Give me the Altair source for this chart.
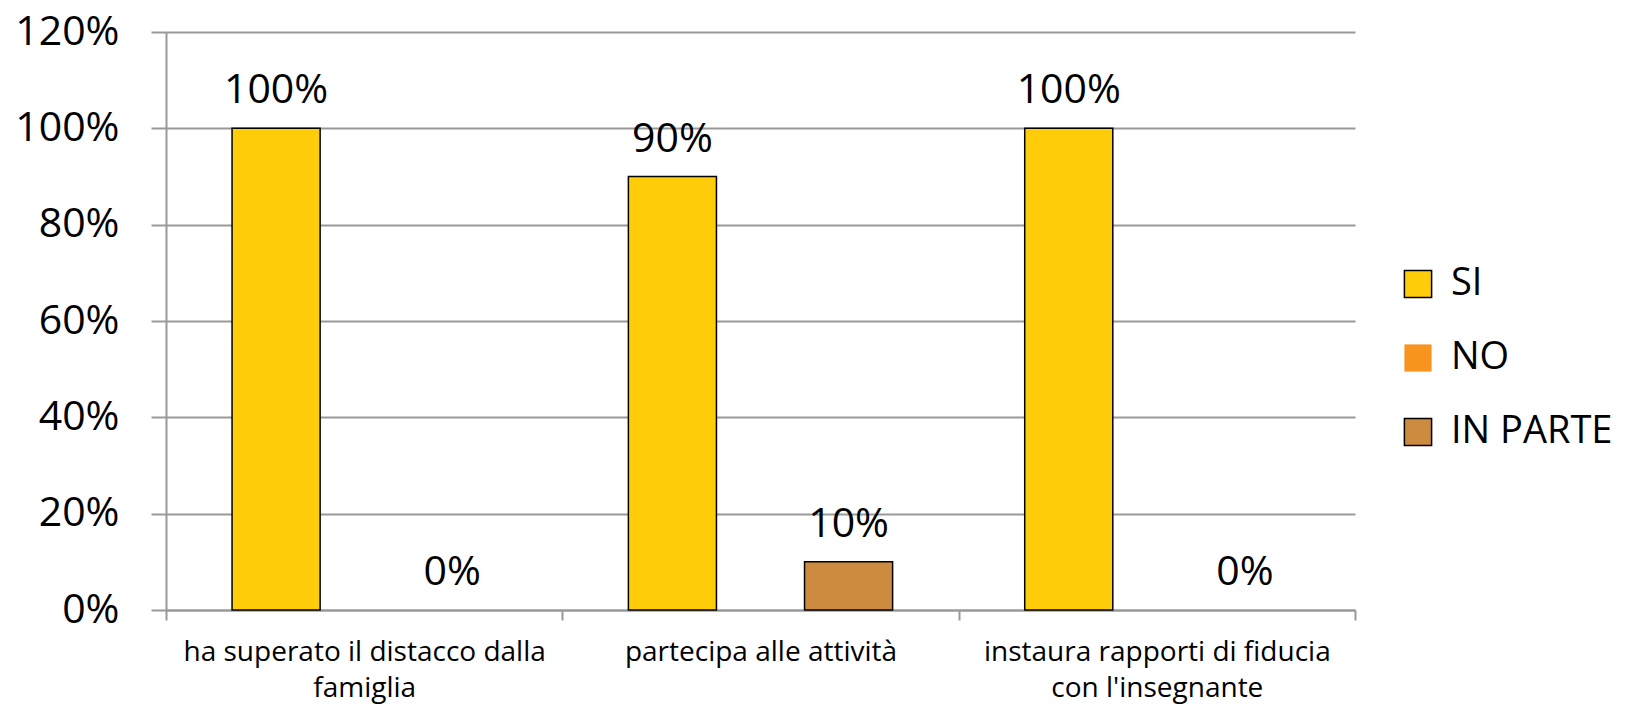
import json
import altair as alt
import pandas as pd

categories = [
    "ha superato il distacco dalla famiglia",
    "partecipa alle attività",
    "instaura rapporti di fiducia con l'insegnante",
]
category_lines = [
    ["ha superato il distacco dalla", "famiglia"],
    ["partecipa alle attività"],
    ["instaura rapporti di fiducia", "con l'insegnante"],
]
series = ["SI", "NO", "IN PARTE"]
si_values = [1.00, 0.90, 1.00]
no_values = [None, None, None]
in_parte_values = [0.00, 0.10, 0.00]
colors = ["#FFCC0A", "#F7941E", "#CD8B3F"]
strokes = ["#000000", "transparent", "#000000"]
y_ticks = [0, 0.2, 0.4, 0.6, 0.8, 1.0, 1.2]

rows = []
for s, vals in zip(series, [si_values, no_values, in_parte_values]):
    for c, v in zip(categories, vals):
        if v is not None:
            rows.append({"categoria": c, "serie": s, "valore": v})
df = pd.DataFrame(rows)

label_map = json.dumps(dict(zip(categories, category_lines)), ensure_ascii=False)

FONT = "Open Sans"
GRID = "#999999"

x_enc = alt.X(
    "categoria:N",
    sort=categories,
    scale=alt.Scale(paddingInner=0, paddingOuter=0),
    axis=alt.Axis(
        title=None,
        labelAngle=0,
        labelFontSize=28,
        labelFont=FONT,
        labelColor="#000000",
        labelPadding=18,
        labelLineHeight=36,
        labelExpr=label_map + "[datum.value]",
        labelLimit=0,
        domainColor=GRID,
        domainWidth=2,
        tickColor=GRID,
        tickWidth=2,
        tickSize=10,
        tickBand="extent",
        grid=False,
    ),
)
xoff_scale = alt.Scale(domain=series, paddingInner=0, paddingOuter=0.75)
y_enc = alt.Y(
    "valore:Q",
    scale=alt.Scale(domain=[0, 1.2], nice=False),
    axis=alt.Axis(
        title=None,
        values=y_ticks,
        format=".0%",
        labelFontSize=41,
        labelFont=FONT,
        labelColor="#000000",
        labelPadding=32,
        domainColor=GRID,
        domainWidth=2,
        tickColor=GRID,
        tickWidth=2,
        tickSize=15,
        grid=True,
        gridColor=GRID,
        gridWidth=2,
    ),
)

legend_props = dict(
    title=None,
    orient="none",
    legendX=1233,
    legendY=233,
    symbolType="square",
    symbolSize=740,
    symbolStrokeWidth=1.5,
    labelFontSize=38,
    labelFont=FONT,
    labelColor="#000000",
    labelOffset=14,
    rowPadding=36,
    padding=0,
    labelLimit=0,
)

bars = (
    alt.Chart(df)
    .transform_filter("datum.valore > 0")
    .mark_bar(strokeWidth=1.5)
    .encode(
        x=x_enc,
        xOffset=alt.XOffset("serie:N", sort=series, scale=xoff_scale),
        y=y_enc,
        fill=alt.Fill(
            "serie:N",
            sort=series,
            scale=alt.Scale(domain=series, range=colors),
            legend=alt.Legend(**legend_props),
        ),
        stroke=alt.Stroke(
            "serie:N",
            sort=series,
            scale=alt.Scale(domain=series, range=strokes),
            legend=alt.Legend(**legend_props),
        ),
    )
)

labels = (
    alt.Chart(df)
    .mark_text(fontSize=41, font=FONT, color="#000000", baseline="alphabetic", dy=-25)
    .encode(
        x=alt.X("categoria:N", sort=categories),
        xOffset=alt.XOffset("serie:N", sort=series),
        y=alt.Y("valore:Q"),
        text=alt.Text("valore:Q", format=".0%"),
    )
)

chart = (
    alt.layer(bars, labels)
    .properties(
        width=1189,
        height=578,
        autosize=alt.AutoSizeParams(type="none"),
        padding={"left": 158, "top": 24, "right": 262, "bottom": 100},
        background="#FFFFFF",
    )
    .configure_view(stroke=None)
)

chart.save("out.html", embed_options={"renderer": "svg", "actions": False})
